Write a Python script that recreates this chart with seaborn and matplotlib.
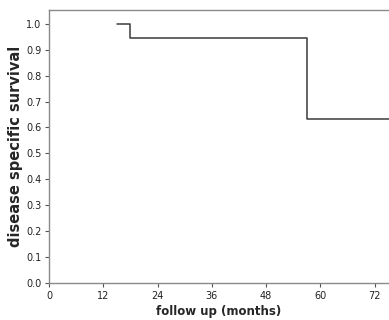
import matplotlib
matplotlib.use("Agg")
import matplotlib.pyplot as plt
import pandas as pd
import seaborn as sns

# Kaplan-Meier step points
months = [15, 18, 57, 80]
survival = [1.0, 0.947, 0.632, 0.632]
x_ticks = [0, 12, 24, 36, 48, 60, 72]
y_ticks = [0.0, 0.1, 0.2, 0.3, 0.4, 0.5, 0.6, 0.7, 0.8, 0.9, 1.0]

sns.set_style("white")
plt.rcParams['font.family'] = ['DejaVu Sans']

df = pd.DataFrame({'months': months, 'survival': survival})

fig = plt.figure(figsize=(3.89, 3.2), dpi=100)
ax = fig.add_axes([0.126, 0.116, 0.874, 0.853])

sns.lineplot(data=df, x='months', y='survival', estimator=None,
             drawstyle='steps-post', color='#3a3a3a', linewidth=1.1, ax=ax)

ax.set_xlim(0, 75.2)
ax.set_ylim(0, 1.054)
ax.set_xticks(x_ticks)
ax.set_xticklabels([str(t) for t in x_ticks])
ax.set_yticks(y_ticks)
ax.set_yticklabels([f'{t:.1f}' for t in y_ticks])
ax.tick_params(axis='both', direction='out', length=3, width=0.8,
               color='#555555', labelsize=7, labelcolor='#222222', pad=2.5,
               bottom=True, left=True)
for side in ['left', 'bottom', 'top']:
    ax.spines[side].set_color('#8a8a8a')
    ax.spines[side].set_linewidth(1.0)
ax.spines['right'].set_visible(False)

ax.set_xlabel('follow up (months)', fontsize=8.5, fontweight='bold', labelpad=3)
ax.set_ylabel('disease specific survival', fontsize=10.5, fontweight='bold', labelpad=2)

fig.savefig('out.png', dpi=100)
